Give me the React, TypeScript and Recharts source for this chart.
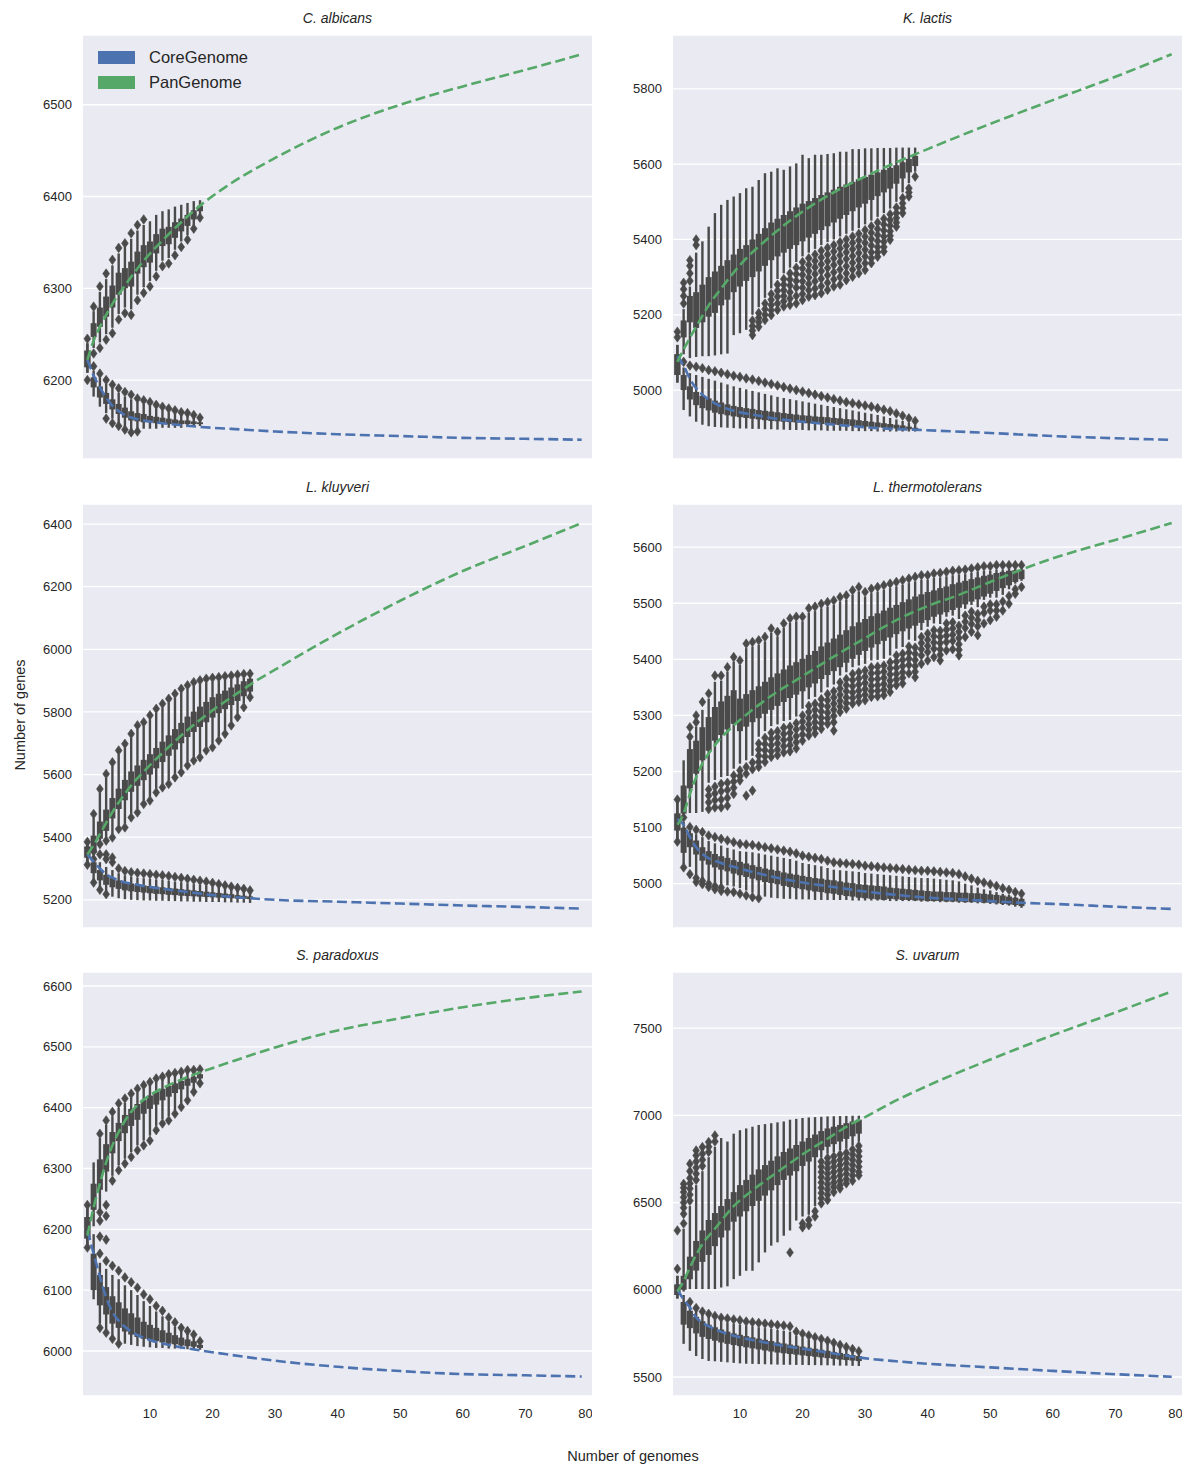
import React from "react";
import { ComposedChart, Scatter, XAxis, YAxis, CartesianGrid, ErrorBar } from "recharts";

const INK = "#4a4a4a";
const TEXT = "#262626";
const CORE_COLOR = "#4c72b0";
const PAN_COLOR = "#55a868";
const FONT = '"Liberation Sans", Arial, "DejaVu Sans", sans-serif';

const X_TICKS = [10, 20, 30, 40, 50, 60, 70, 80];

// boxes are [whisker low, q1, q3, whisker high], one per genome count (index = x)
// outlier rows are [x, value, value, ...]

// ---- C. albicans ----
const caPan = [
  [6208, 6214, 6232, 6240], [6235, 6247, 6262, 6275], [6241, 6258, 6279, 6296], [6250, 6269, 6291, 6310],
  [6257, 6279, 6303, 6325], [6272, 6293, 6317, 6338], [6279, 6300, 6322, 6345], [6277, 6302, 6329, 6354],
  [6293, 6316, 6340, 6363], [6301, 6323, 6347, 6369], [6308, 6328, 6351, 6373], [6319, 6338, 6359, 6380],
  [6330, 6346, 6365, 6384], [6333, 6348, 6367, 6386], [6342, 6355, 6372, 6389], [6351, 6362, 6376, 6391],
  [6358, 6368, 6380, 6393], [6369, 6375, 6385, 6395], [6380, 6384, 6390, 6396],
];
const caCore = [
  [6208, 6214, 6232, 6240], [6182, 6192, 6203, 6210], [6171, 6181, 6193, 6203], [6164, 6174, 6186, 6196],
  [6158, 6168, 6179, 6191], [6153, 6163, 6174, 6186], [6149, 6159, 6170, 6182], [6146, 6156, 6166, 6179],
  [6146, 6155, 6164, 6176], [6147, 6154, 6163, 6174], [6147, 6154, 6161, 6172], [6147, 6153, 6160, 6169],
  [6148, 6153, 6159, 6167], [6148, 6152, 6158, 6165], [6148, 6152, 6157, 6163], [6148, 6152, 6156, 6162],
  [6149, 6152, 6156, 6161], [6149, 6152, 6155, 6159], [6150, 6152, 6154, 6157],
];
const caPanOut = [
  [0, 6200, 6245], [1, 6229, 6280], [2, 6235, 6302], [3, 6244, 6316], [4, 6251, 6331], [5, 6266, 6344],
  [6, 6273, 6349], [7, 6271, 6360], [8, 6287, 6369], [9, 6295, 6375], [10, 6302], [11, 6313], [12, 6324],
  [13, 6327], [14, 6336], [15, 6345], [16, 6353], [17, 6365], [18, 6377],
];
const caCoreOut = [
  [1, 6215], [2, 6207], [3, 6200, 6158], [4, 6195, 6153], [5, 6191, 6150], [6, 6187, 6146], [7, 6184, 6143],
  [8, 6180, 6144], [9, 6178], [10, 6176], [11, 6173], [12, 6171], [13, 6169], [14, 6167], [15, 6165],
  [16, 6164], [17, 6162], [18, 6159],
];
const caPanFit = [[0, 6222], [1, 6243], [2, 6258], [3, 6271], [4, 6283], [6, 6303], [9, 6330], [12, 6352], [15, 6372], [18, 6390], [22, 6410], [30, 6442], [40, 6475], [50, 6500], [60, 6520], [70, 6538], [79, 6555]];
const caCoreFit = [[0, 6222], [1, 6205], [2, 6192], [3, 6181], [4, 6172], [6, 6162], [9, 6156], [12, 6153], [18, 6149], [25, 6146], [30, 6144], [40, 6141], [50, 6139], [60, 6137], [70, 6136], [79, 6135]];

// ---- K. lactis ----
const klPan = [
  [5020, 5040, 5095, 5120], [5095, 5140, 5185, 5215], [5085, 5180, 5250, 5275], [5088, 5165, 5260, 5365],
  [5090, 5180, 5280, 5395], [5090, 5195, 5300, 5434], [5092, 5205, 5315, 5470], [5095, 5225, 5330, 5492],
  [5097, 5240, 5345, 5505], [5146, 5260, 5360, 5514], [5151, 5275, 5375, 5523], [5160, 5290, 5385, 5536],
  [5200, 5300, 5400, 5540], [5220, 5315, 5415, 5558], [5245, 5330, 5430, 5576], [5270, 5345, 5445, 5580],
  [5295, 5355, 5455, 5589], [5310, 5365, 5465, 5585], [5325, 5375, 5475, 5594], [5340, 5385, 5485, 5602],
  [5355, 5395, 5495, 5625], [5365, 5405, 5502, 5616], [5375, 5415, 5510, 5625], [5385, 5425, 5518, 5625],
  [5393, 5435, 5525, 5627], [5400, 5445, 5532, 5629], [5408, 5455, 5540, 5633], [5415, 5465, 5546, 5633],
  [5423, 5475, 5553, 5640], [5430, 5485, 5560, 5640], [5440, 5495, 5566, 5642], [5450, 5505, 5572, 5642],
  [5460, 5515, 5578, 5643], [5470, 5525, 5585, 5643], [5482, 5535, 5590, 5643], [5500, 5548, 5597, 5644],
  [5525, 5562, 5605, 5644], [5550, 5578, 5614, 5644], [5580, 5595, 5622, 5644],
];
const klCore = [
  [5020, 5040, 5095, 5120], [4947, 5000, 5040, 5060], [4930, 4975, 5010, 5045], [4916, 4960, 4995, 5040],
  [4908, 4952, 4985, 5035], [4904, 4946, 4978, 5030], [4902, 4940, 4972, 5025], [4901, 4936, 4967, 5020],
  [4900, 4933, 4962, 5015], [4899, 4930, 4958, 5010], [4898, 4928, 4955, 5006], [4898, 4926, 4952, 5002],
  [4897, 4924, 4950, 4998], [4897, 4922, 4947, 4994], [4896, 4920, 4945, 4990], [4896, 4918, 4943, 4986],
  [4895, 4917, 4941, 4982], [4895, 4916, 4939, 4979], [4894, 4915, 4937, 4976], [4894, 4914, 4935, 4973],
  [4894, 4913, 4933, 4970], [4893, 4912, 4932, 4967], [4893, 4911, 4930, 4964], [4893, 4910, 4929, 4961],
  [4892, 4909, 4928, 4958], [4892, 4908, 4926, 4955], [4892, 4907, 4925, 4952], [4892, 4906, 4923, 4949],
  [4891, 4905, 4922, 4946], [4891, 4904, 4920, 4943], [4891, 4903, 4918, 4940], [4891, 4902, 4916, 4937],
  [4890, 4901, 4914, 4934], [4890, 4900, 4912, 4930], [4890, 4899, 4910, 4926], [4890, 4898, 4908, 4922],
  [4890, 4897, 4906, 4918], [4890, 4896, 4903, 4913], [4890, 4895, 4900, 4908],
];
const klPanOut = [
  [0, 5140, 5155], [1, 5230, 5250, 5268, 5285], [2, 5290, 5310, 5330, 5345], [3, 5385, 5400],
  [12, 5185, 5170, 5158, 5146], [13, 5205, 5192, 5180, 5168], [14, 5230, 5215, 5200, 5186],
  [15, 5255, 5240, 5226, 5212, 5199], [16, 5280, 5264, 5248, 5230, 5213],
  [17, 5295, 5280, 5265, 5250, 5236, 5222], [18, 5310, 5294, 5278, 5260, 5243, 5226],
  [19, 5325, 5308, 5290, 5272, 5250, 5230], [20, 5340, 5323, 5306, 5289, 5272, 5255, 5239],
  [21, 5350, 5333, 5316, 5299, 5282, 5265, 5248], [22, 5360, 5343, 5326, 5308, 5289, 5270, 5252],
  [23, 5370, 5352, 5334, 5316, 5296, 5276, 5257], [24, 5378, 5360, 5342, 5324, 5305, 5285, 5266],
  [25, 5385, 5368, 5350, 5332, 5313, 5294, 5275], [26, 5393, 5376, 5358, 5340, 5320, 5300, 5280],
  [27, 5400, 5383, 5366, 5348, 5329, 5310, 5292], [28, 5408, 5391, 5374, 5356, 5338, 5320, 5301],
  [29, 5415, 5398, 5381, 5364, 5346, 5328, 5310], [30, 5425, 5408, 5391, 5373, 5355, 5337, 5319],
  [31, 5435, 5418, 5401, 5384, 5366, 5350, 5337], [32, 5445, 5428, 5412, 5396, 5380, 5366, 5354],
  [33, 5455, 5440, 5424, 5408, 5394, 5380, 5368], [34, 5467, 5452, 5437, 5422, 5410, 5399],
  [35, 5485, 5470, 5457, 5445, 5434], [36, 5510, 5496, 5483, 5470], [37, 5536, 5525, 5514], [38, 5567],
];
const klCoreOut = [
  [1, 5075], [2, 5065], [3, 5062], [4, 5058], [5, 5053], [6, 5050], [7, 5046], [8, 5042], [9, 5038],
  [10, 5035], [11, 5031], [12, 5028], [13, 5024], [14, 5020], [15, 5016], [16, 5012], [17, 5008], [18, 5004],
  [19, 5000], [20, 4996], [21, 4992], [22, 4988], [23, 4984], [24, 4980], [25, 4976], [26, 4972], [27, 4968],
  [28, 4965], [29, 4962], [30, 4959], [31, 4956], [32, 4952], [33, 4948], [34, 4944], [35, 4938], [36, 4932],
  [37, 4925], [38, 4918],
];
const klPanFit = [[0, 5075], [1, 5108], [2, 5139], [3, 5168], [5, 5225], [7, 5270], [10, 5332], [15, 5410], [20, 5474], [25, 5525], [30, 5567], [35, 5605], [40, 5640], [50, 5707], [60, 5770], [70, 5832], [79, 5892]];
const klCoreFit = [[0, 5090], [1, 5065], [2, 5030], [3, 5005], [4, 4988], [6, 4965], [9, 4945], [12, 4935], [15, 4926], [20, 4916], [26, 4907], [32, 4899], [39, 4894], [50, 4886], [60, 4878], [70, 4872], [79, 4868]];

// ---- L. kluyveri ----
const lkPan = [
  [5318, 5335, 5370, 5380], [5342, 5350, 5405, 5462], [5390, 5395, 5450, 5542], [5400, 5420, 5488, 5590],
  [5410, 5460, 5525, 5627], [5438, 5490, 5555, 5665], [5443, 5518, 5583, 5686], [5475, 5545, 5610, 5718],
  [5491, 5564, 5629, 5745], [5518, 5582, 5647, 5755], [5529, 5600, 5665, 5777], [5555, 5620, 5685, 5798],
  [5571, 5640, 5705, 5814], [5582, 5660, 5725, 5830], [5603, 5680, 5745, 5846], [5619, 5700, 5765, 5862],
  [5641, 5720, 5785, 5873], [5657, 5736, 5801, 5883], [5667, 5752, 5817, 5889], [5689, 5767, 5832, 5894],
  [5699, 5782, 5847, 5897], [5721, 5796, 5858, 5899], [5742, 5809, 5868, 5902], [5769, 5822, 5878, 5904],
  [5795, 5835, 5888, 5907], [5827, 5850, 5898, 5909], [5857, 5865, 5906, 5910],
];
const lkCore = [
  [5318, 5335, 5370, 5380], [5261, 5285, 5320, 5340], [5240, 5262, 5295, 5320], [5225, 5248, 5280, 5305],
  [5210, 5240, 5270, 5295], [5205, 5235, 5262, 5285], [5202, 5230, 5256, 5278], [5200, 5227, 5252, 5274],
  [5199, 5225, 5249, 5271], [5198, 5223, 5246, 5269], [5198, 5221, 5244, 5267], [5197, 5219, 5242, 5265],
  [5197, 5218, 5240, 5263], [5196, 5216, 5238, 5261], [5196, 5215, 5236, 5258], [5195, 5213, 5234, 5256],
  [5195, 5212, 5232, 5253], [5194, 5211, 5230, 5250], [5194, 5210, 5228, 5248], [5193, 5209, 5226, 5245],
  [5193, 5208, 5224, 5242], [5193, 5207, 5222, 5239], [5192, 5206, 5220, 5236], [5192, 5205, 5218, 5233],
  [5191, 5204, 5215, 5230], [5191, 5203, 5213, 5227], [5190, 5202, 5211, 5224],
];
const lkPanOut = [
  [0, 5312, 5385], [1, 5330, 5474], [2, 5378, 5554], [3, 5389, 5602], [4, 5399, 5639], [5, 5426, 5677],
  [6, 5431, 5698], [7, 5463, 5730], [8, 5479, 5757], [9, 5506, 5767], [10, 5517, 5789], [11, 5543, 5810],
  [12, 5559, 5826], [13, 5570, 5842], [14, 5591, 5858], [15, 5607, 5874], [16, 5629, 5885], [17, 5645, 5895],
  [18, 5655, 5901], [19, 5677, 5906], [20, 5687, 5909], [21, 5709, 5911], [22, 5730, 5914], [23, 5757, 5916],
  [24, 5783, 5919], [25, 5815, 5921], [26, 5847, 5922],
];
const lkCoreOut = [
  [1, 5355, 5255], [2, 5345, 5232], [3, 5330, 5345, 5218], [4, 5320, 5335], [5, 5300], [6, 5292], [7, 5288],
  [8, 5286], [9, 5284], [10, 5282], [11, 5280], [12, 5278], [13, 5276], [14, 5273], [15, 5270], [16, 5267],
  [17, 5264], [18, 5261], [19, 5258], [20, 5254], [21, 5250], [22, 5246], [23, 5242], [24, 5238], [25, 5235],
  [26, 5230],
];
const lkPanFit = [[0, 5345], [1, 5375], [2, 5410], [4, 5480], [7, 5565], [10, 5630], [13, 5688], [16, 5742], [20, 5805], [24, 5860], [27, 5900], [30, 5935], [40, 6050], [50, 6155], [60, 6250], [70, 6330], [79, 6403]];
const lkCoreFit = [[0, 5345], [1, 5322], [2, 5300], [3, 5282], [5, 5262], [8, 5248], [12, 5235], [16, 5225], [20, 5215], [26, 5205], [30, 5200], [40, 5194], [50, 5188], [60, 5182], [70, 5177], [79, 5172]];

// ---- L. thermotolerans ----
const ltPan = [
  [5080, 5095, 5125, 5145], [5118, 5125, 5175, 5220], [5126, 5170, 5240, 5255], [5126, 5196, 5255, 5280],
  [5128, 5220, 5279, 5310], [5180, 5237, 5297, 5330], [5185, 5255, 5315, 5360], [5190, 5265, 5325, 5362],
  [5192, 5275, 5335, 5378], [5205, 5285, 5345, 5396], [5214, 5272, 5330, 5390], [5220, 5280, 5338, 5420],
  [5228, 5288, 5345, 5423], [5262, 5295, 5352, 5426], [5272, 5303, 5360, 5432], [5281, 5310, 5368, 5447],
  [5284, 5317, 5375, 5441], [5290, 5324, 5382, 5456], [5292, 5331, 5389, 5465], [5298, 5337, 5395, 5468],
  [5312, 5343, 5401, 5468], [5329, 5350, 5408, 5483], [5333, 5357, 5415, 5486], [5341, 5365, 5423, 5491],
  [5350, 5372, 5430, 5494], [5355, 5379, 5437, 5497], [5371, 5386, 5444, 5503], [5377, 5394, 5452, 5506],
  [5386, 5401, 5459, 5515], [5389, 5408, 5466, 5521], [5392, 5415, 5472, 5512], [5398, 5421, 5477, 5518],
  [5399, 5427, 5482, 5521], [5401, 5433, 5487, 5524], [5407, 5439, 5492, 5527], [5419, 5445, 5497, 5530],
  [5422, 5450, 5502, 5533], [5435, 5455, 5507, 5536], [5433, 5460, 5512, 5539], [5452, 5465, 5516, 5542],
  [5458, 5470, 5520, 5542], [5464, 5476, 5523, 5545], [5463, 5480, 5527, 5546], [5476, 5484, 5530, 5548],
  [5478, 5488, 5534, 5550], [5472, 5492, 5537, 5551], [5490, 5498, 5540, 5552], [5497, 5503, 5543, 5554],
  [5493, 5507, 5546, 5556], [5506, 5512, 5549, 5558], [5510, 5517, 5551, 5558], [5510, 5522, 5554, 5560],
  [5515, 5527, 5556, 5560], [5525, 5532, 5558, 5561], [5535, 5538, 5559, 5562], [5540, 5543, 5560, 5563],
];
const ltCore = [
  [5080, 5095, 5125, 5145], [5035, 5055, 5100, 5110], [5030, 5065, 5090, 5094], [5015, 5052, 5077, 5088],
  [5010, 5041, 5065, 5083], [5006, 5034, 5058, 5076], [5002, 5029, 5053, 5072], [4999, 5025, 5049, 5068],
  [4997, 5022, 5046, 5064], [4995, 5018, 5042, 5061], [4992, 5015, 5039, 5058], [4988, 5012, 5036, 5057],
  [4984, 5009, 5033, 5056], [4980, 5006, 5030, 5054], [4977, 5003, 5027, 5052], [4975, 5001, 5025, 5050],
  [4974, 4999, 5023, 5048], [4973, 4996, 5020, 5046], [4973, 4994, 5018, 5044], [4972, 4992, 5016, 5041],
  [4972, 4990, 5014, 5037], [4972, 4988, 5012, 5035], [4971, 4986, 5010, 5033], [4971, 4985, 5009, 5031],
  [4971, 4983, 5007, 5028], [4971, 4982, 5006, 5025], [4971, 4980, 5004, 5024], [4971, 4978, 5002, 5023],
  [4970, 4977, 5001, 5022], [4970, 4975, 4999, 5021], [4970, 4974, 4998, 5019], [4970, 4973, 4997, 5018],
  [4970, 4972, 4996, 5017], [4970, 4971, 4995, 5016], [4969, 4973, 4993, 5015], [4969, 4972, 4992, 5014],
  [4969, 4971, 4991, 5013], [4969, 4971, 4990, 5012], [4969, 4970, 4989, 5011], [4968, 4970, 4988, 5010],
  [4968, 4969, 4987, 5010], [4968, 4969, 4986, 5009], [4967, 4969, 4986, 5008], [4967, 4968, 4985, 5007],
  [4967, 4968, 4985, 5006], [4966, 4968, 4984, 5004], [4966, 4967, 4984, 5000], [4966, 4967, 4983, 4997],
  [4965, 4967, 4983, 4993], [4965, 4966, 4982, 4990], [4964, 4966, 4981, 4988], [4963, 4965, 4980, 4985],
  [4962, 4964, 4979, 4982], [4961, 4963, 4977, 4980], [4959, 4962, 4975, 4977], [4957, 4960, 4973, 4975],
];
const ltPanOut = [
  [0, 5075, 5150], [2, 5262, 5279], [3, 5288, 5300], [4, 5324],
  [5, 5168, 5157, 5145, 5133, 5339], [6, 5173, 5161, 5149, 5136, 5371], [7, 5178, 5165, 5150, 5136, 5371],
  [8, 5180, 5167, 5153, 5139, 5386], [9, 5193, 5182, 5171, 5160, 5404], [10, 5202, 5192, 5184, 5398],
  [11, 5208, 5196, 5157, 5428], [12, 5216, 5204, 5166, 5431],
  [13, 5250, 5239, 5228, 5217, 5208, 5434], [14, 5260, 5249, 5238, 5227, 5217, 5440],
  [15, 5269, 5258, 5247, 5236, 5226, 5455], [16, 5272, 5261, 5250, 5239, 5229, 5449],
  [17, 5278, 5267, 5256, 5245, 5234, 5464], [18, 5280, 5269, 5258, 5247, 5236, 5473],
  [19, 5286, 5275, 5263, 5252, 5241, 5476], [20, 5300, 5289, 5278, 5266, 5255, 5476],
  [21, 5317, 5306, 5295, 5284, 5274, 5264, 5491], [22, 5321, 5310, 5299, 5288, 5278, 5268, 5494],
  [23, 5329, 5318, 5307, 5296, 5286, 5276, 5499], [24, 5338, 5327, 5316, 5305, 5295, 5285, 5502],
  [25, 5343, 5332, 5321, 5310, 5299, 5288, 5273, 5505], [26, 5359, 5348, 5337, 5326, 5316, 5306, 5511],
  [27, 5365, 5354, 5343, 5332, 5322, 5312, 5514], [28, 5374, 5363, 5352, 5341, 5331, 5321, 5523],
  [29, 5377, 5366, 5355, 5344, 5334, 5324, 5529], [30, 5380, 5369, 5358, 5347, 5337, 5327, 5520],
  [31, 5386, 5375, 5364, 5353, 5343, 5333, 5526], [32, 5387, 5376, 5365, 5354, 5344, 5334, 5529],
  [33, 5389, 5378, 5367, 5356, 5346, 5336, 5532], [34, 5395, 5384, 5373, 5362, 5352, 5342, 5535],
  [35, 5407, 5396, 5385, 5374, 5364, 5354, 5538], [36, 5410, 5399, 5388, 5377, 5367, 5357, 5541],
  [37, 5423, 5412, 5401, 5390, 5375, 5544], [38, 5421, 5410, 5399, 5388, 5378, 5368, 5547],
  [39, 5440, 5429, 5418, 5407, 5392, 5550], [40, 5446, 5435, 5424, 5413, 5398, 5550],
  [41, 5452, 5441, 5430, 5419, 5404, 5553], [42, 5451, 5440, 5429, 5418, 5408, 5398, 5554],
  [43, 5464, 5453, 5442, 5431, 5416, 5556], [44, 5466, 5455, 5444, 5433, 5418, 5558],
  [45, 5460, 5449, 5438, 5427, 5417, 5407, 5559], [46, 5478, 5467, 5456, 5440, 5560],
  [47, 5485, 5474, 5463, 5449, 5562], [48, 5481, 5470, 5459, 5443, 5564], [49, 5494, 5483, 5464, 5566],
  [50, 5498, 5487, 5470, 5566], [51, 5498, 5487, 5476, 5568], [52, 5503, 5487, 5568], [53, 5513, 5499, 5568],
  [54, 5525, 5517, 5568], [55, 5529, 5568],
];
const ltCoreOut = [
  [1, 5118, 5029], [2, 5101, 5017], [3, 5096, 5003, 5010], [4, 5092, 4999, 5005], [5, 5086, 4994, 5000],
  [6, 5083, 4990, 4996], [7, 5080, 4987, 4993], [8, 5077, 4986], [9, 5074, 4985], [10, 5071, 4982],
  [11, 5070, 4979], [12, 5069, 4976], [13, 5067, 4974], [14, 5065], [15, 5063], [16, 5061], [17, 5059],
  [18, 5057], [19, 5054], [20, 5050], [21, 5048], [22, 5046], [23, 5044], [24, 5041], [25, 5038], [26, 5037],
  [27, 5036], [28, 5035], [29, 5034], [30, 5032], [31, 5031], [32, 5030], [33, 5029], [34, 5028], [35, 5027],
  [36, 5026], [37, 5025], [38, 5024], [39, 5023], [40, 5023], [41, 5022], [42, 5021], [43, 5020], [44, 5019],
  [45, 5017], [46, 5013], [47, 5009], [48, 5005], [49, 5002], [50, 4999], [51, 4996], [52, 4992], [53, 4989],
  [54, 4985], [55, 4982],
];
const ltPanFit = [[0, 5105], [1, 5125], [2, 5160], [3, 5190], [4, 5214], [6, 5247], [9, 5282], [12, 5310], [15, 5335], [20, 5370], [25, 5405], [30, 5438], [35, 5470], [40, 5495], [45, 5515], [50, 5538], [55, 5560], [60, 5580], [70, 5613], [79, 5643]];
const ltCoreFit = [[0, 5115], [1, 5105], [2, 5083], [3, 5065], [4, 5053], [7, 5037], [10, 5027], [15, 5013], [20, 5002], [25, 4994], [30, 4986], [35, 4980], [40, 4975], [45, 4972], [50, 4969], [55, 4966], [60, 4964], [70, 4959], [79, 4955]];

// ---- S. paradoxus ----
const spPan = [
  [6175, 6185, 6220, 6235], [6205, 6232, 6275, 6310], [6232, 6265, 6315, 6350], [6262, 6295, 6340, 6372],
  [6288, 6325, 6360, 6386], [6305, 6345, 6375, 6400], [6316, 6358, 6388, 6408], [6327, 6370, 6398, 6417],
  [6338, 6380, 6406, 6425], [6346, 6390, 6413, 6431], [6354, 6398, 6420, 6437], [6370, 6405, 6426, 6443],
  [6381, 6412, 6431, 6446], [6386, 6418, 6436, 6450], [6396, 6424, 6440, 6453], [6407, 6430, 6444, 6455],
  [6418, 6436, 6448, 6458], [6431, 6441, 6451, 6459], [6444, 6448, 6455, 6461],
];
const spCore = [
  [6175, 6185, 6220, 6235], [6085, 6100, 6160, 6192], [6045, 6075, 6125, 6145], [6035, 6060, 6105, 6135],
  [6025, 6045, 6090, 6125], [6017, 6038, 6080, 6118], [6012, 6032, 6070, 6108], [6010, 6027, 6062, 6100],
  [6008, 6023, 6055, 6092], [6007, 6020, 6048, 6082], [6006, 6018, 6043, 6074], [6005, 6016, 6038, 6065],
  [6005, 6014, 6034, 6057], [6004, 6012, 6030, 6048], [6004, 6011, 6026, 6040], [6004, 6009, 6022, 6033],
  [6003, 6008, 6019, 6028], [6003, 6007, 6016, 6022], [6002, 6005, 6010, 6014],
];
const spPanOut = [
  [0, 6240], [2, 6214, 6228, 6357], [3, 6222, 6240, 6379], [4, 6280, 6393], [5, 6297, 6407], [6, 6308, 6415],
  [7, 6319, 6423], [8, 6330, 6431], [9, 6338, 6437], [10, 6346, 6442], [11, 6363, 6448], [12, 6374, 6451],
  [13, 6379, 6455], [14, 6390, 6457], [15, 6401, 6459], [16, 6412, 6462], [17, 6426, 6462], [18, 6440, 6463],
];
const spCoreOut = [
  [0, 6170], [2, 6160, 6188, 6038], [3, 6148, 6183, 6030], [4, 6140, 6020], [5, 6132, 6012], [6, 6121],
  [7, 6113], [8, 6104], [9, 6093], [10, 6085], [11, 6074], [12, 6066], [13, 6055], [14, 6047], [15, 6038],
  [16, 6033], [17, 6027], [18, 6016],
];
const spPanFit = [[0, 6190], [1, 6236], [2, 6275], [3, 6310], [4, 6338], [5, 6360], [7, 6393], [9, 6413], [12, 6432], [15, 6446], [18, 6458], [22, 6472], [30, 6499], [40, 6527], [50, 6547], [60, 6565], [70, 6580], [79, 6591]];
const spCoreFit = [[0, 6198], [1, 6160], [2, 6122], [3, 6088], [4, 6064], [5, 6050], [7, 6032], [10, 6018], [14, 6008], [18, 6001], [22, 5995], [30, 5984], [40, 5974], [50, 5967], [60, 5962], [70, 5960], [79, 5958]];

// ---- S. uvarum ----
const suPan = [
  [5950, 5970, 6030, 6080], [5990, 6000, 6080, 6350], [6004, 6060, 6190, 6480], [6004, 6110, 6280, 6600],
  [6004, 6160, 6340, 6680], [6004, 6200, 6400, 6760], [6004, 6250, 6440, 6820], [6013, 6300, 6480, 6870],
  [6020, 6340, 6520, 6850], [6061, 6390, 6560, 6895], [6080, 6420, 6600, 6915], [6109, 6450, 6630, 6925],
  [6109, 6480, 6660, 6935], [6157, 6510, 6690, 6945], [6214, 6540, 6715, 6950], [6253, 6570, 6740, 6955],
  [6272, 6600, 6765, 6960], [6310, 6630, 6790, 6965], [6340, 6655, 6810, 6975], [6397, 6680, 6830, 6980],
  [6420, 6710, 6850, 6985], [6430, 6735, 6870, 6988], [6480, 6760, 6890, 6990], [6760, 6800, 6910, 6992],
  [6780, 6820, 6925, 6994], [6790, 6835, 6935, 6995], [6800, 6850, 6945, 6996], [6810, 6865, 6955, 6997],
  [6830, 6880, 6965, 6998], [6850, 6895, 6975, 6998],
];
const suCore = [
  [5950, 5970, 6030, 6080], [5690, 5800, 5930, 5970], [5650, 5780, 5880, 5915], [5620, 5750, 5845, 5880],
  [5603, 5730, 5820, 5860], [5592, 5718, 5800, 5845], [5590, 5708, 5785, 5830], [5587, 5698, 5772, 5820],
  [5584, 5690, 5760, 5812], [5581, 5683, 5750, 5805], [5578, 5677, 5742, 5800], [5576, 5670, 5734, 5795],
  [5575, 5664, 5727, 5790], [5574, 5658, 5720, 5785], [5573, 5652, 5713, 5780], [5572, 5646, 5706, 5775],
  [5571, 5640, 5698, 5770], [5570, 5636, 5692, 5765], [5570, 5632, 5686, 5760], [5569, 5628, 5680, 5735],
  [5569, 5624, 5674, 5725], [5568, 5620, 5668, 5715], [5568, 5616, 5662, 5706], [5567, 5612, 5656, 5698],
  [5567, 5608, 5650, 5690], [5566, 5604, 5644, 5680], [5565, 5600, 5638, 5670], [5565, 5597, 5632, 5660],
  [5564, 5594, 5626, 5650], [5563, 5591, 5620, 5640],
];
const suPanOut = [
  [0, 6120, 6340], [1, 6380, 6435, 6470, 6500, 6530, 6560, 6585, 6607], [2, 6510, 6545, 6580, 6610, 6640, 6680, 6722],
  [3, 6630, 6665, 6700, 6735, 6770, 6799], [4, 6710, 6745, 6780, 6818], [5, 6790, 6820, 6847], [6, 6850, 6885],
  [18, 6214], [20, 6358, 6380], [21, 6370, 6400], [22, 6420, 6450],
  [23, 6735, 6705, 6675, 6645, 6615, 6585, 6555, 6525, 6495], [24, 6755, 6725, 6695, 6665, 6635, 6605, 6575, 6545, 6515],
  [25, 6765, 6735, 6705, 6675, 6645, 6615, 6590, 6560], [26, 6775, 6745, 6715, 6685, 6655, 6625, 6600, 6580],
  [27, 6785, 6755, 6725, 6695, 6665, 6635, 6610], [28, 6805, 6775, 6745, 6715, 6685, 6655, 6625],
  [29, 6825, 6795, 6765, 6735, 6705, 6675, 6655],
];
const suCoreOut = [
  [2, 5930], [3, 5895], [4, 5875], [5, 5862], [6, 5850], [7, 5840], [8, 5835], [9, 5830], [10, 5825],
  [11, 5818], [12, 5814], [13, 5810], [14, 5806], [15, 5802], [16, 5798], [17, 5795], [18, 5790], [19, 5760],
  [20, 5748], [21, 5738], [22, 5728], [23, 5718], [24, 5708], [25, 5696], [26, 5684], [27, 5672], [28, 5660],
  [29, 5648],
];
const suPanFit = [[0, 5990], [1, 6050], [2, 6128], [3, 6200], [4, 6262], [6, 6350], [9, 6480], [12, 6570], [16, 6675], [20, 6776], [24, 6866], [28, 6955], [30, 6990], [34, 7068], [40, 7170], [50, 7320], [60, 7460], [70, 7590], [79, 7711]];
const suCoreFit = [[0, 6000], [1, 5945], [2, 5898], [3, 5841], [4, 5812], [6, 5774], [9, 5736], [12, 5712], [16, 5685], [20, 5662], [25, 5635], [29, 5612], [35, 5590], [40, 5576], [50, 5555], [60, 5535], [70, 5516], [79, 5501]];

// ---- layout ----
const PLOT_W = 509;
const PLOT_H = 424;
const AXIS_W = 80;
const COL_LEFT = [83, 673];
const ROW_TOP = [35, 504, 972];

const panels = [
  { title: "C. albicans", pan: caPan, core: caCore, panOut: caPanOut, coreOut: caCoreOut, panFit: caPanFit, coreFit: caCoreFit, domain: [6114, 6576], ticks: [6200, 6300, 6400, 6500], col: 0, row: 0 },
  { title: "K. lactis", pan: klPan, core: klCore, panOut: klPanOut, coreOut: klCoreOut, panFit: klPanFit, coreFit: klCoreFit, domain: [4817, 5943], ticks: [5000, 5200, 5400, 5600, 5800], col: 1, row: 0 },
  { title: "L. kluyveri", pan: lkPan, core: lkCore, panOut: lkPanOut, coreOut: lkCoreOut, panFit: lkPanFit, coreFit: lkCoreFit, domain: [5110, 6464], ticks: [5200, 5400, 5600, 5800, 6000, 6200, 6400], col: 0, row: 1 },
  { title: "L. thermotolerans", pan: ltPan, core: ltCore, panOut: ltPanOut, coreOut: ltCoreOut, panFit: ltPanFit, coreFit: ltCoreFit, domain: [4921, 5677], ticks: [5000, 5100, 5200, 5300, 5400, 5500, 5600], col: 1, row: 1 },
  { title: "S. paradoxus", pan: spPan, core: spCore, panOut: spPanOut, coreOut: spCoreOut, panFit: spPanFit, coreFit: spCoreFit, domain: [5926, 6623], ticks: [6000, 6100, 6200, 6300, 6400, 6500, 6600], col: 0, row: 2 },
  { title: "S. uvarum", pan: suPan, core: suCore, panOut: suPanOut, coreOut: suCoreOut, panFit: suPanFit, coreFit: suCoreFit, domain: [5391, 7822], ticks: [5500, 6000, 6500, 7000, 7500], col: 1, row: 2 },
];

const toRows = (boxes: number[][]) =>
  boxes.map(([lo, q1, q3, hi], x) => ({ x, lo, q1, whisker: [0, hi - lo], box: [0, q3 - q1] }));

const toOutliers = (rows: number[][]) =>
  rows.flatMap(([x, ...values]) => values.map((y) => ({ x, y })));

const toPoints = (pts: number[][]) => pts.map(([x, y]) => ({ x, y }));

const Nothing = () => <g />;

// thin diamond flier marker
const Diamond = (props: any) => {
  const { cx, cy } = props;
  if (cx == null || cy == null) return <g />;
  return (
    <polygon
      points={`${cx},${cy - 4.8} ${cx + 3.4},${cy} ${cx},${cy + 4.8} ${cx - 3.4},${cy}`}
      fill={INK}
      stroke={INK}
      strokeWidth={0.6}
    />
  );
};

const tickStyle = { fill: TEXT, fontSize: 13, fontFamily: FONT };
const dashed = (color: string) => ({ stroke: color, strokeWidth: 2.6, strokeDasharray: "10 4.5", fill: "none" });

function Panel({ p }: { p: any }) {
  const showX = p.row === 2;
  const xAxisH = showX ? 30 : 0;
  const pan = toRows(p.pan);
  const core = toRows(p.core);
  const fliers = toOutliers(p.panOut).concat(toOutliers(p.coreOut));
  const left = COL_LEFT[p.col];
  const top = ROW_TOP[p.row];

  return (
    <div style={{ position: "absolute", left: left - AXIS_W, top }}>
      <div
        style={{
          position: "absolute", left: AXIS_W, top: -27, width: PLOT_W, textAlign: "center",
          fontStyle: "italic", fontSize: 14, lineHeight: "20px", color: TEXT, fontFamily: FONT,
        }}
      >
        {p.title}
      </div>
      <ComposedChart width={AXIS_W + PLOT_W} height={PLOT_H + xAxisH} margin={{ top: 0, right: 0, bottom: 0, left: 0 }}>
        <CartesianGrid vertical={false} stroke="#ffffff" strokeWidth={1.3} fill="#eaeaf2" />
        <XAxis
          type="number" dataKey="x" domain={[-0.7, 80.65]} ticks={X_TICKS} allowDataOverflow
          hide={!showX} height={xAxisH} tickLine={false} axisLine={false} tickMargin={7} tick={tickStyle}
        />
        <YAxis
          type="number" domain={p.domain} ticks={p.ticks} allowDataOverflow width={AXIS_W}
          tickLine={false} axisLine={false} tickMargin={5} tick={tickStyle}
        />

        <Scatter data={core} dataKey="lo" shape={Nothing} isAnimationActive={false}>
          <ErrorBar dataKey="whisker" direction="y" width={0} stroke={INK} strokeWidth={2.4} isAnimationActive={false} />
        </Scatter>
        <Scatter data={core} dataKey="q1" shape={Nothing} isAnimationActive={false}>
          <ErrorBar dataKey="box" direction="y" width={0} stroke={INK} strokeWidth={6} isAnimationActive={false} />
        </Scatter>
        <Scatter data={pan} dataKey="lo" shape={Nothing} isAnimationActive={false}>
          <ErrorBar dataKey="whisker" direction="y" width={0} stroke={INK} strokeWidth={2.4} isAnimationActive={false} />
        </Scatter>
        <Scatter data={pan} dataKey="q1" shape={Nothing} isAnimationActive={false}>
          <ErrorBar dataKey="box" direction="y" width={0} stroke={INK} strokeWidth={6} isAnimationActive={false} />
        </Scatter>
        <Scatter data={fliers} dataKey="y" shape={Diamond} isAnimationActive={false} />

        <Scatter
          data={toPoints(p.coreFit)} dataKey="y" shape={Nothing} isAnimationActive={false}
          line={dashed(CORE_COLOR)} lineJointType="monotoneX"
        />
        <Scatter
          data={toPoints(p.panFit)} dataKey="y" shape={Nothing} isAnimationActive={false}
          line={dashed(PAN_COLOR)} lineJointType="monotoneX"
        />
      </ComposedChart>
    </div>
  );
}

function Legend() {
  const items = [
    { label: "CoreGenome", color: CORE_COLOR, top: 51 },
    { label: "PanGenome", color: PAN_COLOR, top: 76 },
  ];
  return (
    <>
      {items.map((it) => (
        <div key={it.label}>
          <div style={{ position: "absolute", left: 98, top: it.top, width: 37, height: 13, background: it.color }} />
          <div
            style={{
              position: "absolute", left: 149, top: it.top - 4, lineHeight: "20px", fontSize: 16.5,
              color: TEXT, fontFamily: FONT,
            }}
          >
            {it.label}
          </div>
        </div>
      ))}
    </>
  );
}

export default function App() {
  return (
    <div style={{ position: "absolute", left: 0, top: 0, width: 1194, height: 1465, background: "#ffffff", fontFamily: FONT }}>
      {panels.map((p) => (
        <Panel key={p.title} p={p} />
      ))}
      <Legend />
      <div
        style={{
          position: "absolute", left: 20, top: 715, transform: "translate(-50%, -50%) rotate(-90deg)",
          whiteSpace: "nowrap", fontSize: 14.5, color: TEXT,
        }}
      >
        Number of genes
      </div>
      <div
        style={{
          position: "absolute", left: 633, top: 1456, transform: "translate(-50%, -50%)",
          whiteSpace: "nowrap", fontSize: 14.5, color: TEXT,
        }}
      >
        Number of genomes
      </div>
    </div>
  );
}
